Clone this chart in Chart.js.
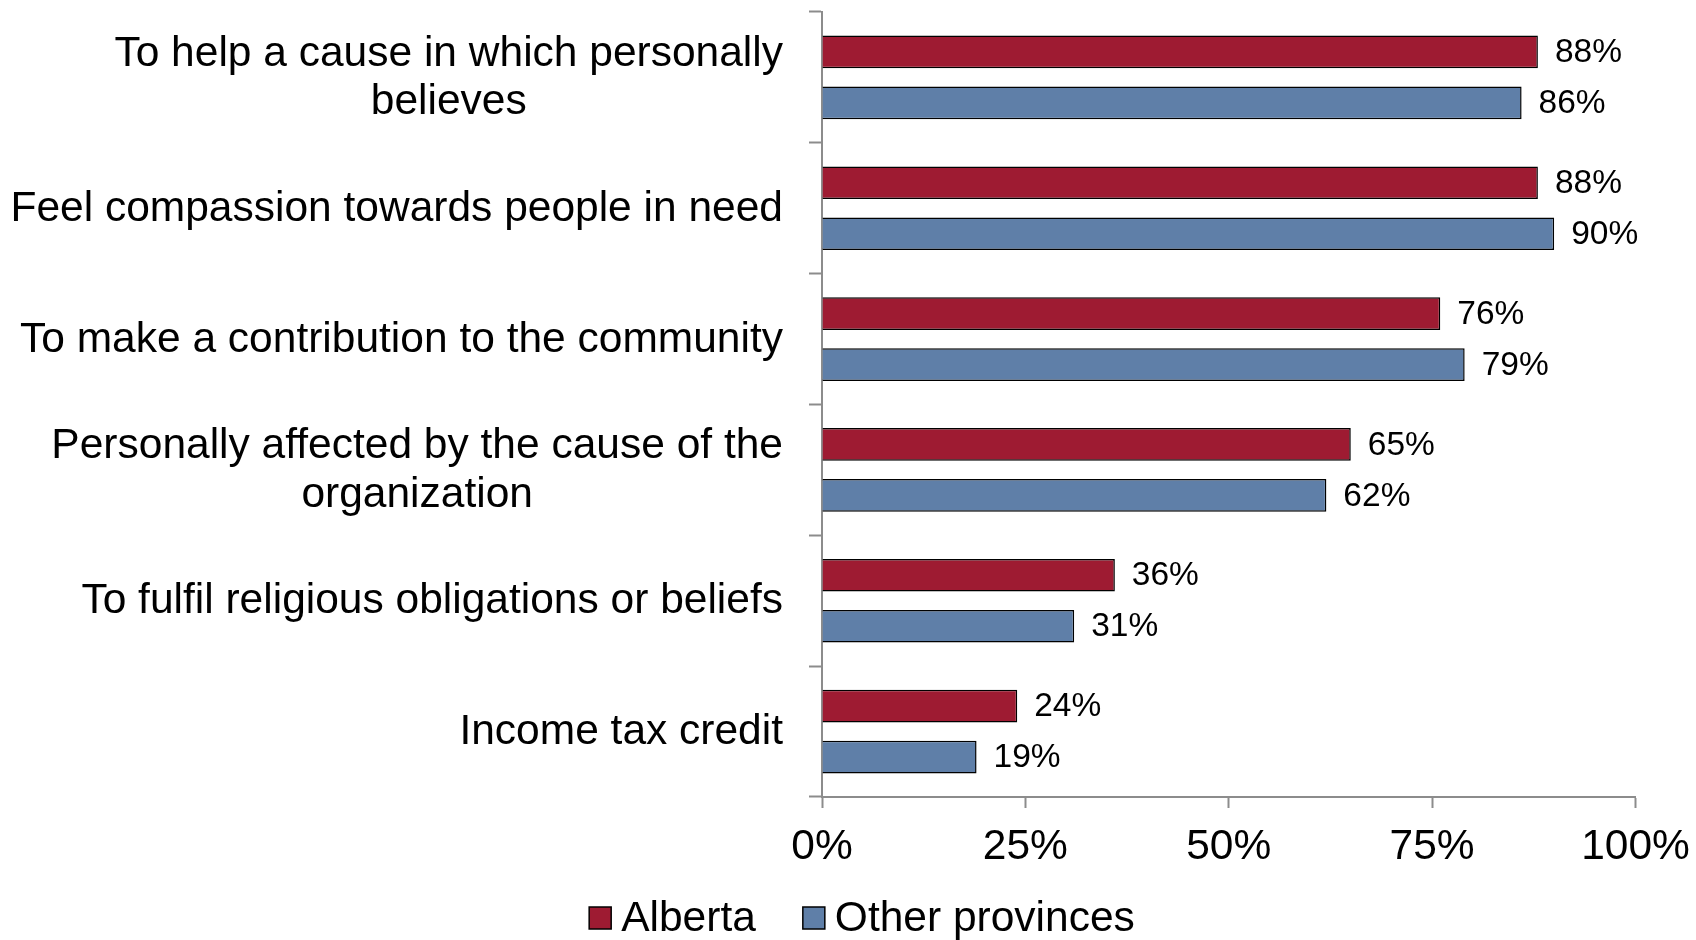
<!DOCTYPE html>
<html lang="en">
<head>
    <meta charset="UTF-8">
    <title>Reasons for donating</title>
    <script src="https://cdn.jsdelivr.net/npm/chart.js"></script>
    <style>
        html, body { margin: 0; padding: 0; background: #fff; }
        #wrap { width: 1696px; height: 940px; }
    </style>
</head>
<body>
    <div id="wrap"><canvas id="reasonsChart" width="1696" height="940"></canvas></div>
    <script>
        // Category labels, one array of lines per reason
        const reasons = [
            ['To help a cause in which personally', 'believes'],
            ['Feel compassion towards people in need'],
            ['To make a contribution to the community'],
            ['Personally affected by the cause of the', 'organization'],
            ['To fulfil religious obligations or beliefs'],
            ['Income tax credit']
        ];
        const albertaValues = [88, 88, 76, 65, 36, 24];
        const otherValues = [86, 90, 79, 62, 31, 19];
        const xTicks = [0, 25, 50, 75, 100];
        const seriesNames = ['Alberta', 'Other provinces'];

        const FONT = '"Liberation Sans", Arial, sans-serif';
        const RED = '#9e1b32';
        const BLUE = '#5f7fa8';
        const AXIS = '#8c8c8c';

        // y labels: right-aligned blocks, lines centred inside each block
        const categoryLabels = {
            id: 'categoryLabels',
            afterDraw(chart) {
                const ctx = chart.ctx;
                const y = chart.scales.y;
                const right = 783;
                const lineH = 48.7;
                ctx.save();
                ctx.font = '42.5px ' + FONT;
                ctx.fillStyle = '#000';
                ctx.textAlign = 'center';
                ctx.textBaseline = 'middle';
                reasons.forEach((lines, i) => {
                    const w = Math.max(...lines.map(l => ctx.measureText(l).width));
                    const cx = right - w / 2;
                    const cy = y.getPixelForValue(i) + 1;
                    const y0 = cy - (lines.length - 1) * lineH / 2;
                    lines.forEach((l, k) => ctx.fillText(l, cx, y0 + k * lineH));
                });
                ctx.restore();
            }
        };

        // value labels after the end of each bar
        const valueLabels = {
            id: 'valueLabels',
            afterDatasetsDraw(chart) {
                const ctx = chart.ctx;
                ctx.save();
                ctx.font = '33.5px ' + FONT;
                ctx.fillStyle = '#000';
                ctx.textAlign = 'left';
                ctx.textBaseline = 'middle';
                chart.data.datasets.forEach((ds, di) => {
                    chart.getDatasetMeta(di).data.forEach((bar, i) => {
                        ctx.fillText(ds.data[i] + '%', bar.x + 17, bar.y + 1);
                    });
                });
                ctx.restore();
            }
        };

        // legend drawn under the axis
        const bottomLegend = {
            id: 'bottomLegend',
            afterDraw(chart) {
                const ctx = chart.ctx;
                const colors = [RED, BLUE];
                const box = 22, gap = 10, itemGap = 47;
                ctx.save();
                ctx.font = '42.5px ' + FONT;
                const widths = seriesNames.map(n => ctx.measureText(n).width);
                const total = widths.reduce((a, w) => a + box + gap + w, 0) + itemGap * (seriesNames.length - 1);
                let x = 862 - total / 2;
                const cy = 918;
                ctx.textBaseline = 'middle';
                ctx.textAlign = 'left';
                seriesNames.forEach((n, i) => {
                    ctx.fillStyle = colors[i];
                    ctx.fillRect(x, cy - box / 2, box, box);
                    ctx.strokeStyle = '#000';
                    ctx.lineWidth = 1.5;
                    ctx.strokeRect(x, cy - box / 2, box, box);
                    ctx.fillStyle = '#000';
                    ctx.fillText(n, x + box + gap, cy + 1);
                    x += box + gap + widths[i] + itemGap;
                });
                ctx.restore();
            }
        };

        const ctx = document.getElementById('reasonsChart').getContext('2d');
        new Chart(ctx, {
            type: 'bar',
            data: {
                labels: reasons,
                datasets: [{
                    label: seriesNames[0],
                    data: albertaValues,
                    backgroundColor: RED,
                    borderColor: '#000',
                    borderWidth: 1.5,
                    categoryPercentage: 0.78,
                    barPercentage: 0.64
                }, {
                    label: seriesNames[1],
                    data: otherValues,
                    backgroundColor: BLUE,
                    borderColor: '#000',
                    borderWidth: 1.5,
                    categoryPercentage: 0.78,
                    barPercentage: 0.64
                }]
            },
            options: {
                indexAxis: 'y',
                responsive: false,
                animation: false,
                devicePixelRatio: 1,
                layout: { padding: { top: 12, right: 60.5, left: 0, bottom: 0 } },
                plugins: {
                    legend: { display: false },
                    tooltip: { enabled: false }
                },
                scales: {
                    x: {
                        min: 0,
                        max: 100,
                        afterBuildTicks(scale) {
                            scale.ticks = xTicks.map(v => ({ value: v }));
                        },
                        afterFit(scale) {
                            scale.height = 143;
                            scale.paddingLeft = 0;
                            scale.paddingRight = 0;
                        },
                        ticks: {
                            callback: v => v + '%',
                            font: { family: FONT, size: 42.5 },
                            color: '#000',
                            padding: 14,
                            maxRotation: 0,
                            autoSkip: false
                        },
                        grid: {
                            drawOnChartArea: false,
                            tickLength: 11,
                            tickWidth: 2,
                            tickColor: AXIS
                        },
                        border: { color: AXIS, width: 2 }
                    },
                    y: {
                        afterFit(scale) { scale.width = 822; },
                        ticks: { display: false },
                        grid: {
                            offset: true,
                            drawOnChartArea: false,
                            tickLength: 13,
                            tickWidth: 2,
                            tickColor: AXIS
                        },
                        border: { color: AXIS, width: 2 }
                    }
                }
            },
            plugins: [categoryLabels, valueLabels, bottomLegend]
        });
    </script>
</body>
</html>
